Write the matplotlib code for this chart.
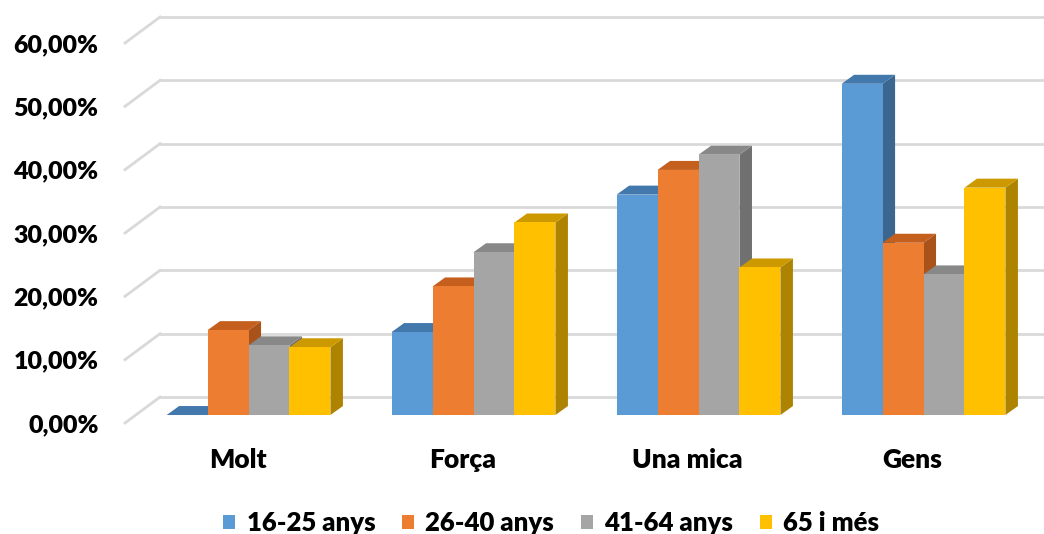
import numpy as np
import matplotlib.pyplot as plt
from matplotlib.patches import Polygon

categories = ["Molt", "Força", "Una mica", "Gens"]
series = ["16-25 anys", "26-40 anys", "41-64 anys", "65 i més"]
v_16_25 = [0.0, 13.1, 34.8, 52.3]
v_26_40 = [13.4, 20.3, 38.7, 27.2]
v_41_64 = [11.0, 25.7, 41.1, 22.2]
v_65 = [10.7, 30.4, 23.3, 35.9]
yticks = [0, 10, 20, 30, 40, 50, 60]

values = [v_16_25, v_26_40, v_41_64, v_65]
front_cols = ["#5B9BD5", "#ED7D31", "#A5A5A5", "#FFC000"]
top_cols = ["#4378AD", "#C45F1E", "#888888", "#CC9A00"]
side_cols = ["#3B6690", "#A9531B", "#707070", "#AD8300"]

plt.rcParams['font.family'] = ['Lato', 'DejaVu Sans']

fig = plt.figure(figsize=(10.44, 5.34), dpi=100)
ax = fig.add_axes([125 / 1044, 111 / 534, 900 / 1044, 380 / 534])
ax.set_xlim(0, 4)
ax.set_ylim(0, 60)

# oblique depth (wall and bars)
wall_dx, wall_dy = 0.1556, 4.1
bar_x0, bar_y0 = 0.049, 1.26      # front face offset of bars
bar_dx, bar_dy = 0.0556, 1.42     # depth of one bar
width = 0.182
grid_col = "#D9D9D9"

# back wall grid lines and left floor diagonals
for t in yticks:
    ax.plot([0, wall_dx], [t, t + wall_dy], color=grid_col, lw=2, clip_on=False, zorder=1)
    ax.plot([wall_dx, 4.3], [t + wall_dy, t + wall_dy], color=grid_col, lw=2, clip_on=False, zorder=1)

z = 2
for i in range(len(categories)):
    start = i + 0.5 + bar_x0 - 2 * width
    for j in range(len(series)):
        x0 = start + j * width
        h = values[j][i]
        top = bar_y0 + h
        side = Polygon([[x0 + width, bar_y0], [x0 + width + bar_dx, bar_y0 + bar_dy],
                        [x0 + width + bar_dx, top + bar_dy], [x0 + width, top]],
                       closed=True, fc=side_cols[j], ec="none", zorder=z, clip_on=False)
        ax.add_patch(side)
        lid = Polygon([[x0, top], [x0 + bar_dx, top + bar_dy],
                       [x0 + width + bar_dx, top + bar_dy], [x0 + width, top]],
                      closed=True, fc=top_cols[j], ec="none", zorder=z, clip_on=False)
        ax.add_patch(lid)
        ax.bar(x0, h, width=width, bottom=bar_y0, align="edge", color=front_cols[j],
               zorder=z, clip_on=False, label=series[j] if i == 0 else None)
        z += 1

ax.set_yticks(yticks)
ax.set_yticklabels([f"{t},00%" for t in yticks], fontsize=18, fontweight="heavy")
ax.set_xticks(np.arange(len(categories)) + 0.5)
ax.set_xticklabels(categories, fontsize=19, fontweight="heavy")
ax.tick_params(axis="y", length=0, pad=19)
ax.tick_params(axis="x", length=0, pad=18)
for s in ax.spines.values():
    s.set_visible(False)
ax.patch.set_alpha(0)

handles, labels = ax.get_legend_handles_labels()
fig.legend(handles, labels, loc="lower center", bbox_to_anchor=(0.528, -0.045), ncol=4,
           frameon=False, prop={"size": 18.5, "weight": "heavy"}, handlelength=0.45,
           handleheight=0.45, handletextpad=0.45, columnspacing=1.05)

fig.savefig("out.png", dpi=100)
